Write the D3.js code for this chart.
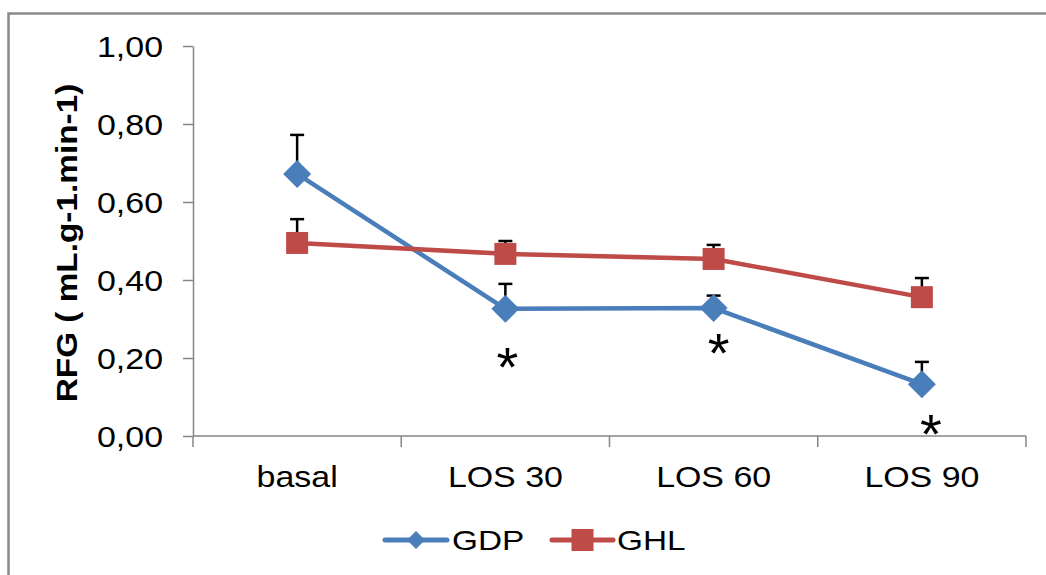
<!DOCTYPE html>
<html>
<head>
<meta charset="utf-8">
<script src="https://cdn.jsdelivr.net/npm/d3@7"></script>
<style>
  body { margin: 0; background: #fff; }
  svg { display: block; font-family: "Liberation Sans", Arial, sans-serif; }
</style>
</head>
<body>
<script>
// Data
const categories = ['basal', 'LOS 30', 'LOS 60', 'LOS 90'];
const gdpValues = [0.672, 0.326, 0.328, 0.133];
const gdpErrors = [0.100, 0.064, 0.032, 0.057];
const ghlValues = [0.495, 0.467, 0.454, 0.356];
const ghlErrors = [0.061, 0.033, 0.036, 0.049];
const yTicks = [0, 0.2, 0.4, 0.6, 0.8, 1.0];
// significance marks (category, value where the * sits)
const starCats = ['LOS 30', 'LOS 60', 'LOS 90'];
const starValues = [0.218, 0.254, 0.046];
const starShift = [2, 5, 9];

const width = 1046, height = 575;
const stretch = 1.17;   // glyphs in the picture are wider than Arial

const series = [
  {name: 'GDP', values: gdpValues, errors: gdpErrors, color: '#4a7ebb', symbol: 'diamond'},
  {name: 'GHL', values: ghlValues, errors: ghlErrors, color: '#be4b48', symbol: 'square'}
];

const svg = d3.select('body').append('svg')
  .attr('width', width)
  .attr('height', height);

// chart frame (only top and left edges are visible)
svg.append('rect')
  .attr('x', 8.5).attr('y', 13.5)
  .attr('width', width + 20).attr('height', height + 20)
  .attr('fill', 'none')
  .attr('stroke', '#8a8a8a')
  .attr('stroke-width', 2.5);

// Scales
const xScale = d3.scaleBand()
  .domain(categories)
  .range([193, 1026]);

const yScale = d3.scaleLinear()
  .domain([0, 1])
  .range([436, 46]);

const fmt = d3.formatLocale({decimal: ',', thousands: '.', grouping: [3], currency: ['', '']}).format('.2f');

// Y axis
const yAxis = d3.axisLeft(yScale)
  .tickValues(yTicks)
  .tickSize(10)
  .tickSizeOuter(0)
  .tickFormat(fmt);

const gy = svg.append('g')
  .attr('transform', 'translate(193,0)')
  .call(yAxis);
gy.select('.domain').attr('stroke', '#868686').attr('stroke-width', 1.5);
gy.selectAll('.tick line').attr('stroke', '#868686').attr('stroke-width', 1.5);
gy.selectAll('.tick text')
  .attr('x', null)
  .attr('dy', '0.36em')
  .attr('transform', 'translate(-30,0) scale(' + stretch + ',1)')
  .attr('font-size', 29)
  .attr('font-family', '"Liberation Sans", Arial, sans-serif')
  .attr('fill', '#000');

// X axis: line plus boundary ticks between categories
const xBounds = categories.map(c => xScale(c)).concat([xScale.range()[1]]);
const gx = svg.append('g');
gx.append('line')
  .attr('x1', xScale.range()[0]).attr('x2', xScale.range()[1])
  .attr('y1', yScale(0)).attr('y2', yScale(0))
  .attr('stroke', '#868686').attr('stroke-width', 1.5);
gx.selectAll('line.bound')
  .data(xBounds)
  .join('line')
  .attr('class', 'bound')
  .attr('x1', d => d).attr('x2', d => d)
  .attr('y1', yScale(0)).attr('y2', yScale(0) + 11)
  .attr('stroke', '#868686').attr('stroke-width', 1.5);
gx.selectAll('text')
  .data(categories)
  .join('text')
  .attr('transform', d => 'translate(' + (xScale(d) + xScale.bandwidth() / 2) + ',487) scale(' + stretch + ',1)')
  .attr('text-anchor', 'middle')
  .attr('font-size', 29)
  .attr('fill', '#000')
  .text(d => d);

// Y axis title
svg.append('text')
  .attr('transform', 'translate(77,243) rotate(-90) scale(1.15,1)')
  .attr('text-anchor', 'middle')
  .attr('font-size', 29)
  .attr('font-weight', 'bold')
  .attr('fill', '#000')
  .text('RFG ( mL.g-1.min-1)');

const cx = c => xScale(c) + xScale.bandwidth() / 2;

// Lines
const line = d3.line()
  .x((d, i) => cx(categories[i]))
  .y(d => yScale(d));

svg.selectAll('path.series')
  .data(series)
  .join('path')
  .attr('class', 'series')
  .attr('fill', 'none')
  .attr('stroke', d => d.color)
  .attr('stroke-width', 4.5)
  .attr('stroke-linejoin', 'round')
  .attr('d', d => line(d.values));

// Error bars (upper only)
series.forEach(s => {
  const g = svg.append('g').attr('class', 'err');
  s.values.forEach((v, i) => {
    const x = cx(categories[i]);
    const yTop = yScale(v + s.errors[i]);
    g.append('line')
      .attr('x1', x).attr('x2', x)
      .attr('y1', yScale(v)).attr('y2', yTop)
      .attr('stroke', '#000').attr('stroke-width', 2.5);
    g.append('line')
      .attr('x1', x - 7).attr('x2', x + 7)
      .attr('y1', yTop).attr('y2', yTop)
      .attr('stroke', '#000').attr('stroke-width', 2.5);
  });
});

// Markers
const diamond = size => 'M0,' + (-size) + 'L' + size + ',0L0,' + size + 'L' + (-size) + ',0Z';

series.forEach(s => {
  const g = svg.append('g');
  s.values.forEach((v, i) => {
    const x = cx(categories[i]);
    const y = yScale(v);
    if (s.symbol === 'diamond') {
      g.append('path')
        .attr('d', diamond(14))
        .attr('transform', 'translate(' + x + ',' + y + ')')
        .attr('fill', s.color);
    } else {
      g.append('rect')
        .attr('x', x - 11).attr('y', y - 11)
        .attr('width', 22).attr('height', 22)
        .attr('fill', s.color);
    }
  });
});

// Significance stars
svg.selectAll('text.star')
  .data(starCats)
  .join('text')
  .attr('class', 'star')
  .attr('x', (d, i) => cx(d) + starShift[i])
  .attr('y', (d, i) => yScale(starValues[i]))
  .attr('dy', '0.62em')
  .attr('text-anchor', 'middle')
  .attr('font-size', 56)
  .attr('fill', '#000')
  .text('*');

// Legend
const legend = svg.append('g');
const legendItems = [
  {s: series[0], x0: 385, x1: 447, tx: 452},
  {s: series[1], x0: 552, x1: 613, tx: 617}
];
legendItems.forEach(item => {
  const ly = 540;
  legend.append('line')
    .attr('x1', item.x0).attr('x2', item.x1)
    .attr('y1', ly).attr('y2', ly)
    .attr('stroke', item.s.color)
    .attr('stroke-width', 5)
    .attr('stroke-linecap', 'round');
  const mx = (item.x0 + item.x1) / 2;
  if (item.s.symbol === 'diamond') {
    legend.append('path')
      .attr('d', diamond(9))
      .attr('transform', 'translate(' + mx + ',' + ly + ')')
      .attr('fill', item.s.color);
  } else {
    legend.append('rect')
      .attr('x', mx - 11).attr('y', ly - 11)
      .attr('width', 22).attr('height', 22)
      .attr('fill', item.s.color);
  }
  legend.append('text')
    .attr('transform', 'translate(' + item.tx + ',550) scale(' + stretch + ',1)')
    .attr('font-size', 28.5)
    .attr('fill', '#000')
    .text(item.s.name);
});
</script>
</body>
</html>
